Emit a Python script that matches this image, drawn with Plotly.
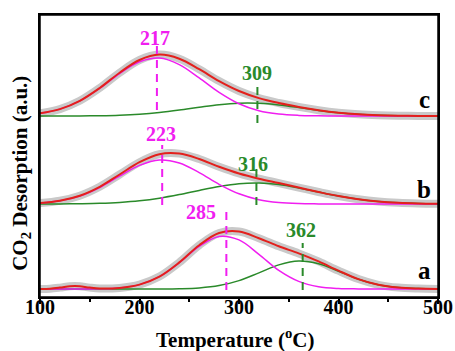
import plotly.graph_objects as go

# ---------------- data ----------------
X_TEMP = [100, 120, 140, 160, 180, 200, 220, 240, 260, 280, 300,
          320, 340, 360, 380, 400, 420, 440, 460, 480, 500]
X_TEMP_A = [100, 110, 120, 130, 135, 140, 150, 160, 180, 200, 220, 240, 260,
            280, 300, 320, 340, 360, 380, 400, 420, 440, 460, 480, 500]

# sample c
c_low = [2.7, 6.9, 15.1, 27.7, 42.5, 54.2, 57.9, 51.4, 38.1, 23.6, 12.2,
         5.2, 1.9, 0.6, 0.2, 0, 0, 0, 0, 0, 0]
c_high = [0, 0.04, 0.1, 0.3, 0.8, 1.8, 3.5, 5.9, 8.7, 11.3, 12.8,
          12.7, 11.1, 8.5, 5.6, 3.3, 1.7, 0.8, 0.3, 0.1, 0]
c_total = [2.7, 6.9, 15.2, 28.0, 43.3, 56.0, 61.4, 57.3, 46.8, 34.9, 25.0,
           17.9, 13.0, 9.1, 5.8, 3.3, 1.7, 0.8, 0.3, 0.1, 0]

# sample b
b_low = [1.0, 3.2, 8.0, 16.5, 27.9, 38.6, 44.0, 41.0, 31.4, 19.7, 10.2,
         4.3, 1.5, 0.4, 0.1, 0, 0, 0, 0, 0, 0]
b_high = [0, 0.1, 0.3, 0.7, 1.6, 3.2, 5.8, 9.4, 13.6, 17.5, 20.3,
          21.0, 19.4, 16.0, 11.9, 7.9, 4.7, 2.5, 1.2, 0.5, 0.2]
b_total = [1.0, 3.3, 8.3, 17.2, 29.5, 41.8, 49.8, 50.4, 45.0, 37.2, 30.5,
           25.3, 20.9, 16.4, 12.0, 7.9, 4.7, 2.5, 1.2, 0.5, 0.2]

# sample a
a_low = [0, 0, 0, 0.2, 1.1, 4.4, 12.3, 26.3, 42.7, 52.6, 49.1,
         34.7, 18.6, 7.6, 2.3, 0.5, 0.1, 0, 0, 0, 0]
a_high = [0, 0, 0, 0, 0, 0, 0.05, 0.3, 1.1, 3.4, 8.4,
          16.1, 24.1, 28.0, 25.3, 17.8, 9.8, 4.2, 1.4, 0.4, 0.1]
a_total = [0.1, 0.3, 1.4, 2.8, 3.0, 2.8, 1.4, 0.5, 1.1, 4.4, 12.4, 26.6, 43.8,
           56.0, 57.5, 50.8, 42.7, 35.6, 27.6, 18.3, 9.9, 4.2, 1.4, 0.4, 0.1]

SAMPLES = ["a", "b", "c"]
OFFSETS = [8, 93, 181]

# peak annotations: label text, marker x
LOW_PEAK_TEXT = ["285", "223", "217"]
LOW_PEAK_X = [287.3, 222.8, 217.5]
HIGH_PEAK_TEXT = ["362", "316", "309"]
HIGH_PEAK_X = [364, 317.5, 318.5]

X_TICKS = [100, 200, 300, 400, 500]

# ---------------- styling ----------------
GRAY = "#c9c9c9"
RED = "#e3201c"
PINK = "#f01ef0"
GREEN = "#2a8a2a"
FONT = "Liberation Serif"

fig = go.Figure()

series = [
    (X_TEMP_A, a_total, X_TEMP, a_low, a_high),
    (X_TEMP, b_total, X_TEMP, b_low, b_high),
    (X_TEMP, c_total, X_TEMP, c_low, c_high),
]

for (xt, tot, xc, low, high), off in zip(series, OFFSETS):
    fig.add_trace(go.Scatter(x=xt, y=[v + off for v in tot], mode="lines",
                             line=dict(color=GRAY, width=8, shape="spline"),
                             hoverinfo="skip"))
for (xt, tot, xc, low, high), off in zip(series, OFFSETS):
    fig.add_trace(go.Scatter(x=xc, y=[v + off for v in high], mode="lines",
                             line=dict(color=GREEN, width=1.5, shape="spline")))
    fig.add_trace(go.Scatter(x=xc, y=[v + off for v in low], mode="lines",
                             line=dict(color=PINK, width=1.5, shape="spline")))
    fig.add_trace(go.Scatter(x=xt, y=[v + off for v in tot], mode="lines",
                             line=dict(color=RED, width=2, shape="spline")))

# dashed peak markers (vertical extents in axis units)
low_span = [(7, 86), (92, 152), (187, 254)]
high_span = [(7, 54), (92, 134), (174, 210)]
for px, (y0, y1) in zip(LOW_PEAK_X, low_span):
    fig.add_shape(type="line", x0=px, x1=px, y0=y0, y1=y1, xref="x", yref="y",
                  line=dict(color=PINK, width=2, dash="8px,6px"))
for px, (y0, y1) in zip(HIGH_PEAK_X, high_span):
    fig.add_shape(type="line", x0=px, x1=px, y0=y0, y1=y1, xref="x", yref="y",
                  line=dict(color=GREEN, width=2, dash="8px,6px"))

# frame
fig.add_shape(type="rect", xref="paper", yref="paper", x0=0, x1=1, y0=0, y1=1,
              line=dict(color="black", width=1.5), layer="above")

low_lab_pos = [(262, 85), (222, 163), (216, 259.5)]
high_lab_pos = [(362, 67), (314, 133), (318.5, 224)]
for t, (lx, ly) in zip(LOW_PEAK_TEXT, low_lab_pos):
    fig.add_annotation(x=lx, y=ly, text=t, showarrow=False, xanchor="center", yanchor="middle",
                       font=dict(family=FONT, size=20, color=PINK, weight="bold"))
for t, (lx, ly) in zip(HIGH_PEAK_TEXT, high_lab_pos):
    fig.add_annotation(x=lx, y=ly, text=t, showarrow=False, xanchor="center", yanchor="middle",
                       font=dict(family=FONT, size=20, color=GREEN, weight="bold"))

letter_y = [27, 108, 198]
for s, ly in zip(SAMPLES, letter_y):
    fig.add_annotation(x=486, y=ly, text=s, showarrow=False, xanchor="center", yanchor="middle",
                       font=dict(family=FONT, size=25, color="black", weight="bold"))

fig.add_annotation(x=-0.048, y=0.44, xref="paper", yref="paper", textangle=-90,
                   text="CO<sub>2</sub> Desorption (a.u.)", showarrow=False,
                   xanchor="center", yanchor="middle",
                   font=dict(family=FONT, size=21, color="black", weight="bold"))
fig.add_annotation(x=0.489, y=-0.147, xref="paper", yref="paper",
                   text="Temperature (<sup>o</sup>C)", showarrow=False,
                   xanchor="center", yanchor="middle",
                   font=dict(family=FONT, size=21, color="black", weight="bold"))

fig.update_layout(
    width=455, height=351,
    margin=dict(l=40, r=17, t=15, b=54, autoexpand=False),
    paper_bgcolor="white", plot_bgcolor="white",
    showlegend=False,
    xaxis=dict(range=[100, 500], tickvals=X_TICKS, ticks="outside", ticklen=5,
               tickwidth=1.5, tickcolor="black", showline=True, linecolor="black",
               linewidth=1.5, mirror=True, showgrid=False, zeroline=False,
               automargin=False, ticklabelstandoff=-14,
               tickfont=dict(family=FONT, size=20, color="black", weight="bold"),
               minor=dict(dtick=50, tick0=100, ticks="outside", ticklen=3,
                          tickwidth=1.5, tickcolor="black")),
    yaxis=dict(range=[0, 282], showticklabels=False, ticks="", showline=True,
               linecolor="black", linewidth=1.5, mirror=True, showgrid=False,
               zeroline=False, automargin=False),
)

fig.write_html("out.html", config={"displayModeBar": False},
               post_script="document.body.style.margin='0px';document.body.style.overflow='hidden';")
